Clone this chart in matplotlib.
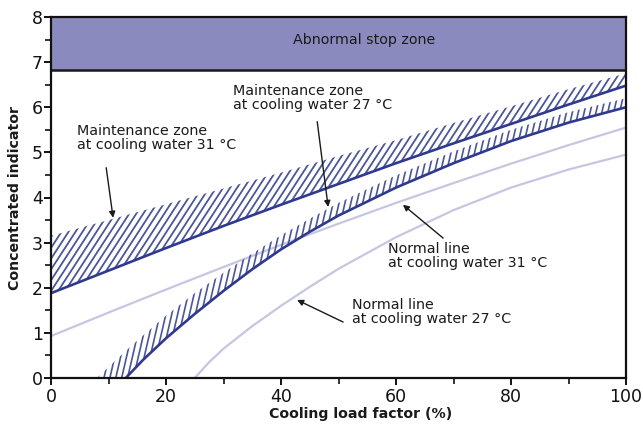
import numpy as np
import matplotlib
matplotlib.use('Agg')
import matplotlib.pyplot as plt
from matplotlib.collections import LineCollection
from matplotlib.patches import Polygon

# ---------------- data ----------------
load_31 = [0, 10, 20, 30, 40, 50, 60, 70, 80, 90, 100]
maint31_line = [1.88, 2.38, 2.88, 3.37, 3.84, 4.30, 4.76, 5.20, 5.63, 6.06, 6.48]
maint31_top = [3.15, 3.50, 3.85, 4.20, 4.55, 4.92, 5.27, 5.65, 6.02, 6.40, 6.75]

load_27 = [13, 16, 20, 25, 30, 35, 40, 45, 50, 60, 70, 80, 90, 100]
maint27_line = [0.0, 0.40, 0.88, 1.42, 1.93, 2.41, 2.85, 3.24, 3.60, 4.22, 4.76, 5.25, 5.66, 6.00]
load_27_top = [8, 13, 16, 20, 25, 30, 35, 40, 45, 50, 60, 70, 80, 90, 100]
maint27_top = [0.0, 0.60, 0.94, 1.38, 1.88, 2.33, 2.76, 3.16, 3.53, 3.88, 4.49, 5.02, 5.50, 5.89, 6.20]

normal31_x = [0, 10, 20, 30, 40, 50, 60, 70, 80, 90, 100]
normal31_y = [0.93, 1.45, 1.96, 2.46, 2.95, 3.42, 3.88, 4.32, 4.75, 5.16, 5.55]

normal27_x = [25, 27.5, 30, 35, 40, 45, 50, 60, 70, 80, 90, 100]
normal27_y = [0.0, 0.35, 0.65, 1.15, 1.60, 2.02, 2.42, 3.12, 3.72, 4.22, 4.62, 4.95]

stop_zone = (6.83, 8.0)

x_ticks = [0, 20, 40, 60, 80, 100]
y_ticks = [0, 1, 2, 3, 4, 5, 6, 7, 8]

# ---------------- figure ----------------
W, H, DPI = 6.43, 4.24, 100
fig = plt.figure(figsize=(W, H), dpi=DPI)
L, B = 51 / 643, 1 - 378 / 424
AW, AH = 575 / 643, 361 / 424
ax = fig.add_axes([L, B, AW, AH])
ax.set_xlim(0, 100)
ax.set_ylim(0, 8)

px_x = AW * W * DPI / 100.0   # pixels per x unit
px_y = AH * H * DPI / 8.0     # pixels per y unit

main_c = '#2f3a8f'
hatch_c = '#4b5698'
normal_c = '#c6c6e2'
txt_c = '#1a1a1a'

# abnormal stop zone
ax.axhspan(stop_zone[0], stop_zone[1], color='#8b8abf', zorder=1, lw=0)
ax.axhline(stop_zone[0], color='#1a1a1a', lw=1.8, zorder=6)


def hatch(poly_xy, angle_deg, spacing_px, lw=1.2):
    poly = Polygon(poly_xy, closed=True, transform=ax.transData,
                   facecolor='none', edgecolor='none')
    ax.add_patch(poly)
    t = np.tan(np.radians(angle_deg))
    hp = 8 * px_y
    wp = 100 * px_x
    vmin, vmax = -60, hp + 60
    segs = []
    for c in np.arange(-hp / t - 200, wp + 200, spacing_px):
        u0, u1 = c + vmin / t, c + vmax / t
        segs.append([(u0 / px_x, vmin / px_y), (u1 / px_x, vmax / px_y)])
    lc = LineCollection(segs, colors=hatch_c, linewidths=lw, zorder=2.5)
    ax.add_collection(lc)
    lc.set_clip_path(poly)


# maintenance zone 31 hatch
p31 = list(zip(load_31, maint31_line)) + list(zip(load_31[::-1], maint31_top[::-1]))
hatch(p31, 57, 7.0, lw=1.3)
# maintenance zone 27 hatch
p27 = list(zip(load_27, maint27_line)) + list(zip(load_27_top[::-1], maint27_top[::-1]))
hatch(p27, 77, 5.9, lw=1.2)

# normal lines
ax.plot(normal31_x, normal31_y, color=normal_c, lw=1.6, zorder=2, solid_capstyle='butt')
ax.plot(normal27_x, normal27_y, color=normal_c, lw=1.6, zorder=2, solid_capstyle='butt')

# maintenance lines
ax.plot(load_31, maint31_line, color=main_c, lw=1.9, zorder=3)
ax.plot(load_27, maint27_line, color=main_c, lw=1.9, zorder=3)

# texts
fs = 10.3
ax.text(54.5, 7.49, 'Abnormal stop zone', ha='center', va='center', fontsize=fs, color=txt_c, zorder=7)
ax.text(4.5, 5.31, 'Maintenance zone\nat cooling water 31 °C', ha='left', va='center',
        fontsize=fs, color=txt_c, linespacing=1.0, zorder=7)
ax.text(31.7, 6.2, 'Maintenance zone\nat cooling water 27 °C', ha='left', va='center',
        fontsize=fs, color=txt_c, linespacing=1.0, zorder=7)
ax.text(58.6, 2.7, 'Normal line\nat cooling water 31 °C', ha='left', va='center',
        fontsize=fs, color=txt_c, linespacing=1.0, zorder=7)
ax.text(52.3, 1.47, 'Normal line\nat cooling water 27 °C', ha='left', va='center',
        fontsize=fs, color=txt_c, linespacing=1.0, zorder=7)

# arrows
aprops = dict(arrowstyle='-|>', lw=1.0, color='#1a1a1a', mutation_scale=9,
              shrinkA=0, shrinkB=0)
ax.annotate('', xy=(10.8, 3.55), xytext=(9.6, 4.66), arrowprops=aprops, zorder=7)
ax.annotate('', xy=(48.2, 3.79), xytext=(46.3, 5.68), arrowprops=aprops, zorder=7)
ax.annotate('', xy=(61.2, 3.84), xytext=(68.2, 3.10), arrowprops=aprops, zorder=7)
ax.annotate('', xy=(42.8, 1.73), xytext=(50.8, 1.24), arrowprops=aprops, zorder=7)

# axes styling
for s in ax.spines.values():
    s.set_linewidth(1.6)
    s.set_color('#111111')
    s.set_zorder(8)
ax.set_xticks(x_ticks)
ax.set_xticks(np.arange(10, 100, 20), minor=True)
ax.set_yticks(y_ticks)
ax.set_yticks(np.arange(0.5, 8, 1.0), minor=True)
ax.tick_params(which='major', direction='out', length=5, width=1.4, labelsize=12.5,
               pad=2, colors='#111111')
ax.tick_params(which='minor', direction='out', length=4, width=1.2, colors='#111111')
ax.tick_params(axis='y', pad=1)

ax.set_xlabel('Cooling load factor (%)', fontsize=10.2, fontweight='bold', color=txt_c)
ax.set_ylabel('Concentrated indicator', fontsize=10.2, fontweight='bold', color=txt_c)
ax.xaxis.set_label_coords(0.539, -0.08)
ax.yaxis.set_label_coords(-0.05, 0.5)

fig.savefig('out.png', dpi=DPI)
